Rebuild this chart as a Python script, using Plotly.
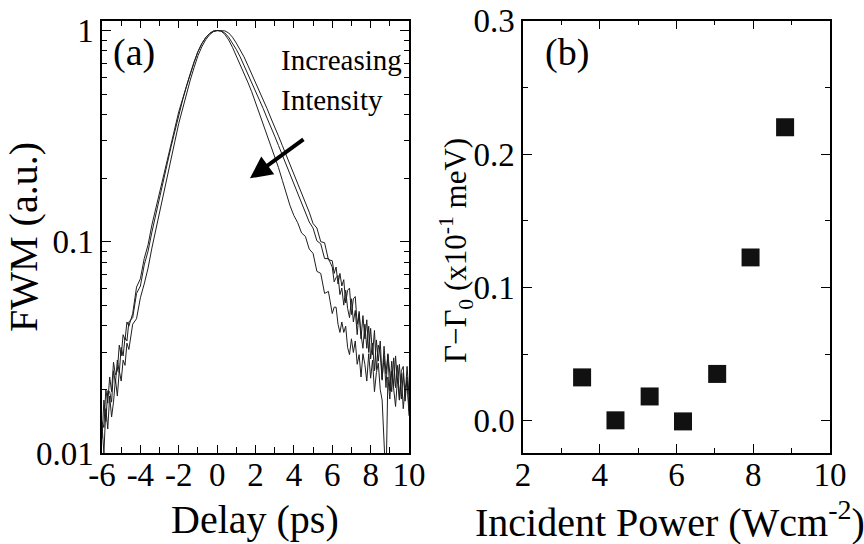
import plotly.graph_objects as go

# ---------------- data: panel (a) ----------------
delay_ps = [-6.0, -5.9, -5.8, -5.7, -5.6, -5.5, -5.4, -5.3, -5.2, -5.1,
            -5.0, -4.9, -4.8, -4.7, -4.6,
            -4.4, -4.2, -4.0, -3.8, -3.6, -3.4, -3.2, -3.0, -2.8, -2.6,
            -2.4, -2.2, -2.0, -1.8, -1.6, -1.4, -1.2, -1.0, -0.8, -0.6,
            -0.4, -0.2, 0.0, 0.2, 0.4, 0.6, 0.8, 1.0, 1.2, 1.4,
            1.6, 1.8, 2.0, 2.2, 2.4, 2.6, 2.8, 3.0, 3.2, 3.4,
            3.6, 3.8, 4.0, 4.2, 4.4, 4.6, 4.8, 5.0, 5.2, 5.4,
            5.6, 5.8,
            6.0, 6.1, 6.2, 6.3, 6.4, 6.5, 6.6, 6.7, 6.8, 6.9,
            7.0, 7.1, 7.2, 7.3, 7.4, 7.5, 7.6, 7.7, 7.8, 7.9,
            8.0, 8.1, 8.2, 8.3, 8.4, 8.5, 8.6, 8.7, 8.8, 8.9,
            9.0, 9.1, 9.2, 9.3, 9.4, 9.5, 9.6, 9.7, 9.8, 9.9, 10.0]

fwm_high = [0.0135, 0.0100, 0.0162, 0.0130, 0.0186, 0.0148, 0.0174, 0.0224, 0.0186, 0.0245,
            0.0219, 0.0275, 0.0260, 0.0331, 0.0309,
            0.0407, 0.0432, 0.0543, 0.0631, 0.0750, 0.0933, 0.114, 0.138, 0.168, 0.204,
            0.248, 0.299, 0.363, 0.427, 0.501, 0.582, 0.668, 0.759, 0.836, 0.902,
            0.953, 0.986, 0.998, 0.993, 0.959, 0.902, 0.832, 0.759, 0.692, 0.631,
            0.569, 0.513, 0.457, 0.407, 0.363, 0.324, 0.288, 0.257, 0.224, 0.195,
            0.170, 0.148, 0.133, 0.123, 0.110, 0.106, 0.0923, 0.0881, 0.0724, 0.0708,
            0.0569, 0.0582,
            0.0457, 0.0490, 0.0490, 0.0407, 0.0372, 0.0417, 0.0372, 0.0398, 0.0316, 0.0292,
            0.0347, 0.0299, 0.0339, 0.0263, 0.0292, 0.0229, 0.0295, 0.0263, 0.0219, 0.0295,
            0.0226, 0.0275, 0.0195, 0.0240, 0.0266, 0.0200, 0.0178, 0.0089, 0.0071, 0.0229,
            0.0180, 0.0245, 0.0193, 0.0166, 0.0226, 0.0178, 0.0237, 0.0162, 0.0202, 0.0219, 0.0150]

fwm_mid = [0.0117, 0.0178, 0.0141, 0.0197, 0.0195, 0.0174, 0.0245, 0.0214, 0.0275, 0.0240,
           0.0316, 0.0288, 0.0351, 0.0339, 0.0417,
           0.0437, 0.0569, 0.0617, 0.0776, 0.0902, 0.111, 0.135, 0.162, 0.195, 0.234,
           0.282, 0.335, 0.403, 0.468, 0.543, 0.624, 0.708, 0.794, 0.865, 0.923,
           0.966, 0.993, 1.0, 0.995, 0.973, 0.929, 0.871, 0.813, 0.750, 0.684,
           0.624, 0.569, 0.519, 0.473, 0.427, 0.385, 0.351, 0.316, 0.285, 0.257,
           0.232, 0.209, 0.188, 0.170, 0.153, 0.138, 0.124, 0.116, 0.101, 0.0977,
           0.0832, 0.0832,
           0.0759, 0.0646, 0.0676, 0.0692, 0.0562, 0.0603, 0.0501, 0.0589, 0.0484, 0.0437,
           0.0537, 0.0417, 0.0473, 0.0363, 0.0468, 0.0363, 0.0313, 0.0407, 0.0313, 0.0398,
           0.0279, 0.0331, 0.0245, 0.0343, 0.0272, 0.0339, 0.0224, 0.0288, 0.0204, 0.0295,
           0.0229, 0.0195, 0.0282, 0.0204, 0.0260, 0.0178, 0.0245, 0.0257, 0.0176, 0.0229, 0.0158]

fwm_low = [0.0141, 0.0132, 0.0200, 0.0172, 0.0229, 0.0195, 0.0269, 0.0234, 0.0245, 0.0324,
           0.0288, 0.0363, 0.0343, 0.0417, 0.0398,
           0.0457, 0.0610, 0.0668, 0.0832, 0.0966, 0.120, 0.143, 0.170, 0.204, 0.243,
           0.292, 0.343, 0.412, 0.473, 0.550, 0.624, 0.708, 0.794, 0.865, 0.923,
           0.966, 0.991, 0.998, 1.0, 0.995, 0.973, 0.929, 0.871, 0.813, 0.750,
           0.684, 0.624, 0.569, 0.519, 0.473, 0.427, 0.385, 0.351, 0.316, 0.285,
           0.257, 0.232, 0.209, 0.188, 0.170, 0.153, 0.138, 0.122, 0.116, 0.100,
           0.0989, 0.0822,
           0.0813, 0.0708, 0.0759, 0.0631, 0.0708, 0.0617, 0.0661, 0.0513, 0.0589, 0.0603,
           0.0452, 0.0537, 0.0550, 0.0407, 0.0457, 0.0347, 0.0447, 0.0347, 0.0427, 0.0299,
           0.0389, 0.0292, 0.0380, 0.0248, 0.0324, 0.0295, 0.0221, 0.0320, 0.0237, 0.0292,
           0.0197, 0.0272, 0.0207, 0.0288, 0.0214, 0.0263, 0.0180, 0.0240, 0.0186, 0.0257, 0.0188]

delay_ticks = [-6, -4, -2, 0, 2, 4, 6, 8, 10]
delay_tick_text = ["-6", "-4", "-2", "0", "2", "4", "6", "8", "10"]
delay_minor = [-5, -3, -1, 1, 3, 5, 7, 9]
fwm_ticks = [0.01, 0.1, 1]
fwm_tick_text = ["0.01", "0.1", "1"]
fwm_minor = [0.02, 0.03, 0.04, 0.05, 0.06, 0.07, 0.08, 0.09,
             0.2, 0.3, 0.4, 0.5, 0.6, 0.7, 0.8, 0.9]

# ---------------- data: panel (b) ----------------
incident_power = [3.54, 4.41, 5.30, 6.17, 7.06, 7.93, 8.83]
gamma_shift = [0.0325, 0.0003, 0.0182, -0.0005, 0.0351, 0.1225, 0.2201]
power_ticks = [2, 4, 6, 8, 10]
power_tick_text = ["2", "4", "6", "8", "10"]
power_minor = [3, 5, 7, 9]
gamma_ticks = [0.0, 0.1, 0.2, 0.3]
gamma_tick_text = ["0.0", "0.1", "0.2", "0.3"]
gamma_minor = [0.05, 0.15, 0.25]

FONT = "Liberation Serif, Times New Roman, serif"
W, H = 864, 544

fig = go.Figure()
for vals in (fwm_high, fwm_mid, fwm_low):
    fig.add_trace(go.Scatter(x=delay_ps, y=vals, mode="lines",
                             line=dict(color="#1e1e1e", width=1),
                             xaxis="x", yaxis="y", showlegend=False,
                             hoverinfo="skip"))
fig.add_trace(go.Scatter(x=incident_power, y=gamma_shift, mode="markers",
                         marker=dict(symbol="square", size=18, color="#111111",
                                     line=dict(width=0)),
                         xaxis="x2", yaxis="y2", showlegend=False))

axis_common = dict(showline=True, linecolor="black", linewidth=1.5,
                   mirror="ticks", ticks="inside", tickcolor="black",
                   tickwidth=1.2, showgrid=False, zeroline=False,
                   automargin=False, tickmode="array",
                   tickfont=dict(family=FONT, size=33, color="black"))

def minor_ticks(vals, length):
    return dict(tickmode="array", tickvals=vals, ticks="inside",
                ticklen=length, tickcolor="black", tickwidth=1.2, showgrid=False)

ydom = [91 / H, 523.3 / H]

fig.update_layout(
    template="none",
    width=W, height=H, margin=dict(l=0, r=0, t=0, b=0, pad=0, autoexpand=False),
    paper_bgcolor="white", plot_bgcolor="white", showlegend=False,
    xaxis=dict(domain=[102 / W, 409 / W], range=[-6, 10], anchor="y",
               tickvals=delay_ticks, ticktext=delay_tick_text, ticklen=8,
               ticklabelstandoff=-8,
               minor=minor_ticks(delay_minor, 6), **axis_common),
    yaxis=dict(domain=ydom, type="log", range=[-2, 0.046], anchor="x",
               tickvals=fwm_ticks, ticktext=fwm_tick_text, ticklen=9,
               minor=minor_ticks(fwm_minor, 5), **axis_common),
    xaxis2=dict(domain=[523 / W, 830 / W], range=[2, 10], anchor="y2",
                tickvals=power_ticks, ticktext=power_tick_text, ticklen=9,
                ticklabelstandoff=-8,
                minor=minor_ticks(power_minor, 5), **axis_common),
    yaxis2=dict(domain=ydom, range=[-0.0242, 0.3], anchor="x2",
                tickvals=gamma_ticks, ticktext=gamma_tick_text, ticklen=9,
                minor=minor_ticks(gamma_minor, 5), **axis_common),
)

def paper_ann(text, x, y, size, angle=0, xanchor="center", yanchor="middle"):
    fig.add_annotation(text=text, x=x / W, y=1 - y / H, xref="paper", yref="paper",
                       showarrow=False, textangle=angle, xanchor=xanchor,
                       yanchor=yanchor, font=dict(family=FONT, size=size, color="black"))

paper_ann("(a)", 134, 52, 38)
paper_ann("(b)", 567, 52, 38)
paper_ann("Increasing", 279, 60, 29, xanchor="left")
paper_ann("Intensity", 279, 100, 29, xanchor="left")
paper_ann("Delay (ps)", 255, 519, 40)
paper_ann("FWM (a.u.)", 23, 237, 40, angle=-90)
paper_ann("Incident Power (Wcm<sup>-2</sup>)", 670, 519, 40)
paper_ann("Γ−Γ<sub>0</sub> (x10<sup>-1</sup> meV)", 456, 251, 31, angle=-90)

# arrow in panel (a)
fig.add_annotation(x=1.71, y=-0.70, xref="x", yref="y", text="", showarrow=True,
                   ax=55, ay=-40, arrowhead=2, arrowsize=1.1, arrowwidth=4,
                   arrowcolor="black")

fig.write_html("out.html")
